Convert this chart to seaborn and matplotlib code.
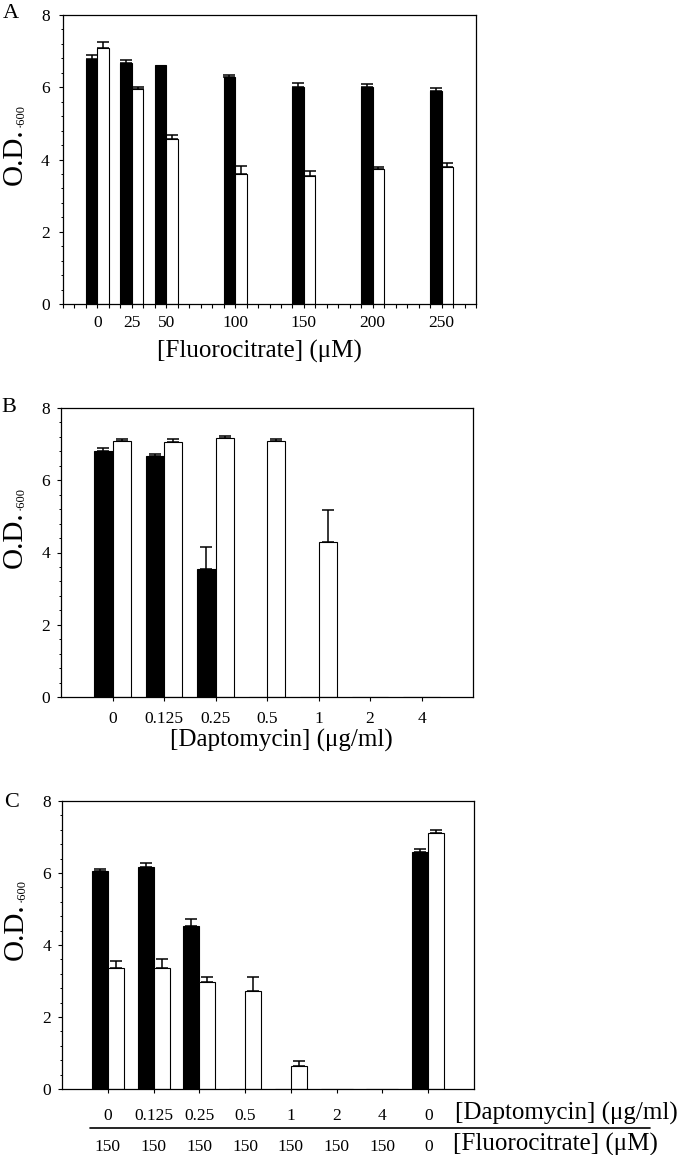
import numpy as np
import pandas as pd
import matplotlib
matplotlib.use("Agg")
import matplotlib.pyplot as plt
from matplotlib.ticker import MultipleLocator, FixedLocator
from matplotlib.transforms import blended_transform_factory
import seaborn as sns

# ---------------- data ----------------
# Panel A: fluorocitrate (uM)
fluoro_a = [0, 25, 50, 100, 150, 200, 250]
a_filled = [6.77, 6.68, 6.61, 6.29, 6.01, 6.00, 5.90]
a_filled_err = [0.12, 0.07, 0.0, 0.06, 0.12, 0.10, 0.07]
a_open = [7.09, 5.96, 4.57, 3.61, 3.55, 3.73, 3.80]
a_open_err = [0.15, 0.06, 0.10, 0.22, 0.14, 0.05, 0.10]

# Panel B: daptomycin (ug/ml)
dapto_b = ["0", "0.125", "0.25", "0.5", "1", "2", "4"]
b_filled = [6.82, 6.67, 3.53, 0.01, 0.01, 0.01, 0.01]
b_filled_err = [0.06, 0.06, 0.63, 0, 0, 0, 0]
b_open = [7.10, 7.06, 7.16, 7.08, 4.28, 0.01, 0.01]
b_open_err = [0.03, 0.08, 0.06, 0.06, 0.91, 0, 0]

# Panel C: daptomycin + fluorocitrate combinations
dapto_c = ["0", "0.125", "0.25", "0.5", "1", "2", "4", "0"]
fluoro_c = ["150", "150", "150", "150", "150", "150", "150", "0"]
c_filled = [6.05, 6.17, 4.53, 0.0, 0.01, 0.01, 0.01, 6.58]
c_filled_err = [0.07, 0.12, 0.20, 0, 0, 0, 0, 0.10]
c_open = [3.35, 3.35, 2.98, 2.71, 0.64, 0.0, 0.01, 7.10]
c_open_err = [0.21, 0.26, 0.14, 0.41, 0.15, 0, 0, 0.10]

series = ["filled", "open"]
palette = {"filled": "black", "open": "white"}

# ---------------- style ----------------
sns.set_theme(style="ticks")
plt.rcParams["font.family"] = ["Liberation Serif", "DejaVu Serif"]
plt.rcParams.update({
    "axes.linewidth": 0.9,
    "axes.edgecolor": "black",
    "xtick.color": "black",
    "ytick.color": "black",
    "text.color": "black",
    "axes.labelcolor": "black",
    "xtick.labelsize": 12.5,
    "ytick.labelsize": 12.5,
})

W, H = 680, 1155
fig = plt.figure(figsize=(W / 100, H / 100), dpi=100)


def rect(l, r, t, b):
    return [l / W, 1 - b / H, (r - l) / W, (b - t) / H]


def px(x, y):
    return x / W, 1 - y / H


def long_df(xs, v1, v2, e1, e2):
    n = len(xs)
    return pd.DataFrame({
        "x": list(xs) * 2,
        "od": list(v1) + list(v2),
        "err": list(e1) + list(e2),
        "series": ["filled"] * n + ["open"] * n,
    })


def draw_errors(ax, errs_by_series):
    for cont, errs in zip(ax.containers, errs_by_series):
        for bar, e in zip(cont, errs):
            if e <= 0:
                continue
            xc = bar.get_x() + bar.get_width() / 2
            h = bar.get_height()
            ax.errorbar(xc, h, yerr=[[0], [e]], fmt="none", ecolor="black",
                        elinewidth=1.1, capsize=4.2, capthick=1.1, zorder=1)


def style_y(ax, pad):
    ax.set_ylim(0, 8)
    ax.yaxis.set_major_locator(FixedLocator([0, 2, 4, 6, 8]))
    ax.yaxis.set_minor_locator(MultipleLocator(0.4))
    ax.tick_params(axis="y", which="major", direction="out", length=3, width=0.8, pad=pad)
    ax.tick_params(axis="y", which="minor", direction="out", length=1.8, width=0.7)
    ax.set_ylabel("")
    ax.grid(False)


def od_label(xb, yb):
    fig.text(*px(xb, yb), "O.D.", fontsize=21, rotation=90,
             rotation_mode="anchor", ha="left", va="baseline")
    fig.text(*px(xb + 1.5, yb - 58), "\u00b7600", fontsize=9, rotation=90,
             rotation_mode="anchor", ha="left", va="baseline")


bar_kw = dict(hue="series", hue_order=series, palette=palette, edgecolor="black",
              linewidth=0.8, errorbar=None, legend=False, saturation=1, gap=0)

# ---------------- Panel A ----------------
axA = fig.add_axes(rect(63, 476, 15, 304))
dfA = long_df(fluoro_a, a_filled, a_open, a_filled_err, a_open_err)
sns.barplot(data=dfA, x="x", y="od", native_scale=True, width=2 / 3, ax=axA, **bar_kw)
draw_errors(axA, [a_filled_err, a_open_err])
axA.set_xlim(-25, 275)
axA.xaxis.set_major_locator(FixedLocator(fluoro_a))
axA.set_xticklabels([str(v) for v in fluoro_a])
axA.xaxis.set_minor_locator(MultipleLocator(25 / 3))
axA.tick_params(axis="x", which="both", direction="out", length=3, width=0.8, pad=5)
style_y(axA, 6.5)
axA.set_xlabel("[Fluorocitrate] (\u03bcM)", fontsize=18)
axA.xaxis.set_label_coords(0.4746, -0.185)
axA.xaxis.label.set_verticalalignment("baseline")
od_label(22, 185)
fig.text(*px(2.7, 18), "A", fontsize=16, ha="left", va="baseline")

# ---------------- Panel B ----------------
axB = fig.add_axes(rect(61, 473, 408, 697))
dfB = long_df(dapto_b, b_filled, b_open, b_filled_err, b_open_err)
sns.barplot(data=dfB, x="x", y="od", order=dapto_b, width=0.7, ax=axB, **bar_kw)
draw_errors(axB, [b_filled_err, b_open_err])
axB.set_xlim(-1, 7)
axB.tick_params(axis="x", which="major", direction="out", length=3, width=0.8, pad=7)
style_y(axB, 5)
axB.set_xlabel("[Daptomycin] (\u03bcg/ml)", fontsize=18)
axB.xaxis.set_label_coords(0.534, -0.170)
axB.xaxis.label.set_verticalalignment("baseline")
od_label(22, 568)
fig.text(*px(1.7, 412), "B", fontsize=16, ha="left", va="baseline")

# ---------------- Panel C ----------------
axC = fig.add_axes(rect(62, 474, 801, 1089))
cond_c = [f"{d}|{f}" for d, f in zip(dapto_c, fluoro_c)]
dfC = long_df(cond_c, c_filled, c_open, c_filled_err, c_open_err)
sns.barplot(data=dfC, x="x", y="od", order=cond_c, width=0.7, ax=axC, **bar_kw)
draw_errors(axC, [c_filled_err, c_open_err])
axC.set_xlim(-1, 8)
axC.set_xticks(range(len(cond_c)))
axC.set_xticklabels(dapto_c)
axC.tick_params(axis="x", which="major", direction="out", length=3, width=0.8, pad=11)
style_y(axC, 5)
axC.set_xlabel("")
bt = blended_transform_factory(axC.transData, axC.transAxes)
for i, f in enumerate(fluoro_c):
    axC.text(i, -0.2138, f, transform=bt, ha="center", va="baseline", fontsize=12.5)
axC.text(0.954, -0.1067, "[Daptomycin] (\u03bcg/ml)", transform=axC.transAxes,
         ha="left", va="baseline", fontsize=18)
axC.text(0.949, -0.2138, "[Fluorocitrate] (\u03bcM)", transform=axC.transAxes,
         ha="left", va="baseline", fontsize=18)
axC.plot([0.068, 1.427], [-0.134, -0.134], transform=axC.transAxes,
         color="black", lw=1.2, clip_on=False)
od_label(23, 960)
fig.text(*px(4.3, 807), "C", fontsize=16, ha="left", va="baseline")

fig.savefig("out.png", dpi=100)
